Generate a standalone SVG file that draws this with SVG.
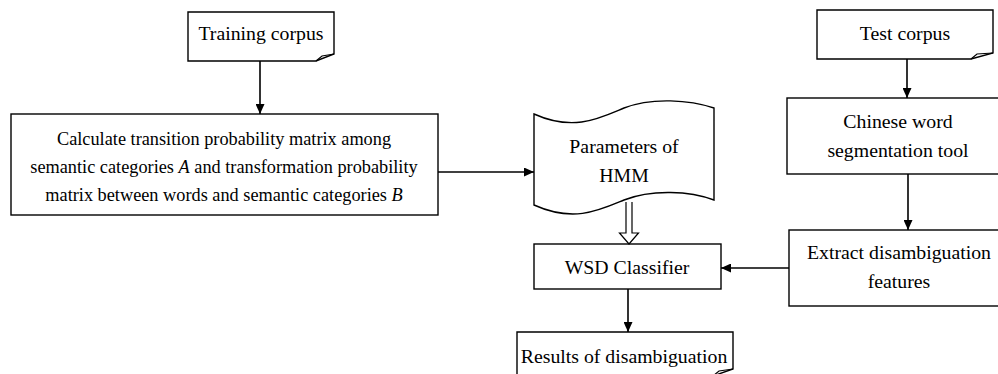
<svg xmlns="http://www.w3.org/2000/svg" width="998" height="374" viewBox="0 0 998 374">
<defs>
<style>
.box{fill:#fff;stroke:#000;stroke-width:1.4}
.fold{fill:none;stroke:#000;stroke-width:1.2}
.t{font-family:"Liberation Serif","Times New Roman",serif;font-size:19.8px;fill:#000;text-anchor:middle}
.s{font-size:18.3px}
.ln{stroke:#000;stroke-width:1.6;fill:none}
</style>
<marker id="ah" markerWidth="10" markerHeight="9" refX="10" refY="4.5" orient="auto" markerUnits="userSpaceOnUse">
<path d="M0,0 L10,4.5 L0,9 Z" fill="#000"/>
</marker>
</defs>
<rect width="998" height="374" fill="#fff"/>
<g id="training-corpus">
<path class="box" d="M188,12 H334 V54 L316,61 H188 Z"/>
<polyline class="fold" points="316,61 322,56 334,54"/>
<text class="t" x="261" y="40">Training corpus</text>
</g>
<g id="calculate">
<rect class="box" x="11" y="114" width="427" height="101"/>
<text class="t s" x="224" y="145">Calculate transition probability matrix among</text>
<text class="t s" x="224" y="173">semantic categories <tspan font-style="italic">A</tspan> and transformation probability</text>
<text class="t s" x="224" y="201">matrix between words and semantic categories <tspan font-style="italic">B</tspan></text>
</g>
<g id="parameters-hmm">
<path class="box" d="M534,114 C574,132 600,118 624,108 C652,97 690,100 714,108 L714,200 C690,191 652,189 624,200 C600,210 574,223 534,205 Z"/>
<text class="t" x="624" y="153">Parameters of</text>
<text class="t" x="624" y="182">HMM</text>
</g>
<g id="wsd-classifier">
<rect class="box" x="534" y="244" width="187" height="45"/>
<text class="t" x="627" y="274">WSD Classifier</text>
</g>
<g id="results">
<path class="box" d="M517,332 H733 V369 L713,376 H517 Z"/>
<polyline class="fold" points="713,376 719,371 733,369"/>
<text class="t" x="624" y="363">Results of disambiguation</text>
</g>
<g id="test-corpus">
<path class="box" d="M817,10 H993 V53 L971,59 H817 Z"/>
<polyline class="fold" points="971,59 977,54 993,53"/>
<text class="t" x="905" y="40">Test corpus</text>
</g>
<g id="segmentation">
<rect class="box" x="787" y="98" width="215" height="76"/>
<text class="t" x="898" y="128">Chinese word</text>
<text class="t" x="898" y="157">segmentation tool</text>
</g>
<g id="extract">
<rect class="box" x="789" y="230" width="213" height="76"/>
<text class="t" x="899" y="259">Extract disambiguation</text>
<text class="t" x="899" y="288">features</text>
</g>
<g id="connectors">
<line class="ln" x1="260" y1="61" x2="260" y2="114" marker-end="url(#ah)"/>
<line class="ln" x1="438" y1="172" x2="534" y2="172" marker-end="url(#ah)"/>
<path d="M626,202 V233 H619.5 L629,244 L638.5,233 H632 V202" fill="#fff" stroke="#000" stroke-width="1.2"/>
<line class="ln" x1="628" y1="289" x2="628" y2="332" marker-end="url(#ah)"/>
<line class="ln" x1="907" y1="59" x2="907" y2="98" marker-end="url(#ah)"/>
<line class="ln" x1="908" y1="174" x2="908" y2="230" marker-end="url(#ah)"/>
<line class="ln" x1="789" y1="268" x2="721" y2="268" marker-end="url(#ah)"/>
</g>
</svg>
